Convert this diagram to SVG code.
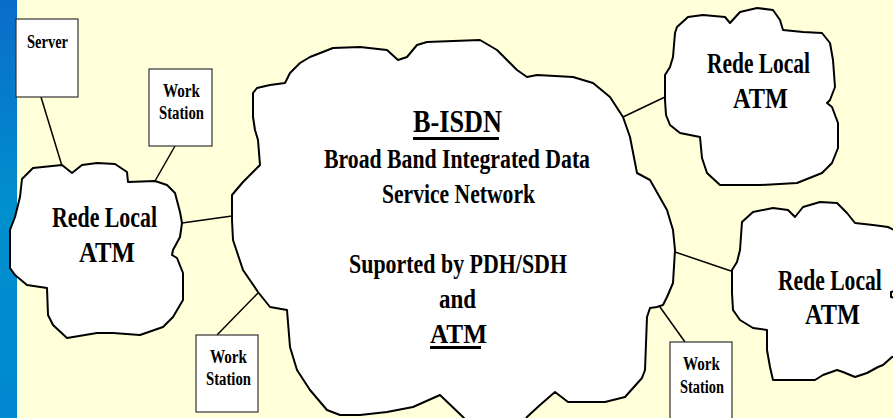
<svg xmlns="http://www.w3.org/2000/svg" width="893" height="418" viewBox="0 0 893 418">
<defs>
<linearGradient id="strip" x1="0" y1="0" x2="0" y2="1">
<stop offset="0" stop-color="#0A6CCA"/>
<stop offset="0.5" stop-color="#0090CE"/>
<stop offset="1" stop-color="#0088D0"/>
</linearGradient>
<style>
.cloud{fill:#FFFFFF;stroke:#000;stroke-width:2;stroke-linejoin:round}
.box{fill:#FFFFFF;stroke:#333;stroke-width:1.2}
.conn{stroke:#000;stroke-width:1.5;fill:none}
text{font-family:"Liberation Serif","Times New Roman",serif;font-weight:bold;fill:#000}
.sm{font-size:18px}
.lg{font-size:29px}
.md{font-size:27px}
.xl{font-size:32px}
.ul{stroke:#000;stroke-width:3}
</style>
</defs>
<rect x="0" y="0" width="893" height="418" fill="#FFFFDA"/>
<rect x="0" y="0" width="17" height="418" fill="url(#strip)"/>

<g id="connectors">
<line class="conn" x1="41" y1="97" x2="62" y2="166"/>
<line class="conn" x1="175" y1="146" x2="155" y2="181"/>
<line class="conn" x1="182" y1="223" x2="232" y2="216"/>
<line class="conn" x1="258" y1="293" x2="217" y2="335"/>
<line class="conn" x1="623" y1="117" x2="665" y2="97"/>
<line class="conn" x1="675" y1="252" x2="731" y2="271"/>
<line class="conn" x1="660" y1="307" x2="685" y2="342"/>
</g>

<g id="server">
<rect class="box" x="16" y="19" width="62" height="78"/>
<text class="sm" x="27" y="48" textLength="41" lengthAdjust="spacingAndGlyphs">Server</text>
</g>

<g id="ws-top">
<rect class="box" x="149" y="69" width="63" height="77"/>
<text class="sm" x="163" y="97" textLength="37" lengthAdjust="spacingAndGlyphs">Work</text>
<text class="sm" x="159" y="119" textLength="45" lengthAdjust="spacingAndGlyphs">Station</text>
</g>

<g id="ws-bottom-left">
<rect class="box" x="196" y="335" width="62" height="77"/>
<text class="sm" x="210" y="363" textLength="37" lengthAdjust="spacingAndGlyphs">Work</text>
<text class="sm" x="206" y="385" textLength="45" lengthAdjust="spacingAndGlyphs">Station</text>
</g>

<g id="ws-bottom-right">
<rect class="box" x="670" y="342" width="62" height="77"/>
<text class="sm" x="683" y="370" textLength="37" lengthAdjust="spacingAndGlyphs">Work</text>
<text class="sm" x="680" y="393" textLength="44" lengthAdjust="spacingAndGlyphs">Station</text>
</g>

<g id="lan-left">
<polygon class="cloud" points="22,179 33,168 62,165 72,173 82,165 97,163 115,164 127,172 128,182 155,181 167,185 175,193 180,212 182,223 180,237 173,250 172,255 177,258 183,273 183,300 173,317 163,327 140,335 113,333 97,333 67,338 53,325 48,315 47,288 27,285 15,275 10,268 10,230 15,217 20,197"/>
<text class="lg" x="52" y="227" textLength="105" lengthAdjust="spacingAndGlyphs">Rede Local</text>
<text class="lg" x="79" y="262" textLength="56" lengthAdjust="spacingAndGlyphs">ATM</text>
</g>

<g id="bisdn">
<polygon class="cloud" points="232,216 232,195 243,182 255,170 260,165 258,140 255,130 253,117 253,93 257,88 270,85 285,83 290,73 300,63 310,57 333,48 360,47 387,50 398,60 407,57 417,45 427,42 480,40 497,50 517,70 527,77 537,75 573,77 593,83 610,97 623,117 630,137 637,173 650,180 667,210 673,230 675,250 673,283 667,297 663,305 657,307 650,308 647,317 645,370 642,378 625,397 605,402 568,402 555,392 540,405 527,417 522,425 470,425 463,417 440,395 413,407 387,412 360,415 340,415 327,410 310,390 297,370 290,347 287,310 270,307 258,292 243,270 233,240 232,220"/>
<text class="xl" x="413" y="132" textLength="89" lengthAdjust="spacingAndGlyphs">B-ISDN</text>
<line class="ul" x1="413" y1="138.5" x2="499" y2="138.5"/>
<text class="md" x="324" y="168" textLength="266" lengthAdjust="spacingAndGlyphs">Broad Band Integrated Data</text>
<text class="md" x="382" y="203" textLength="153" lengthAdjust="spacingAndGlyphs">Service Network</text>
<text class="md" x="349" y="273" textLength="218" lengthAdjust="spacingAndGlyphs">Suported by PDH/SDH</text>
<text class="md" x="439" y="308" textLength="37" lengthAdjust="spacingAndGlyphs">and</text>
<text class="md" x="430" y="343" textLength="57" lengthAdjust="spacingAndGlyphs">ATM</text>
<line class="ul" x1="430" y1="347.5" x2="481" y2="347.5"/>
</g>

<g id="lan-top-right">
<polygon class="cloud" points="677,27 688,17 703,15 725,17 730,23 740,12 757,8 773,10 780,20 783,30 803,32 822,33 830,43 833,60 835,87 830,100 827,103 832,107 838,123 838,148 832,163 822,173 797,183 760,185 720,185 707,173 702,158 700,137 680,133 670,125 666,115 665,100 665,75 670,67 673,57 675,33"/>
<text class="lg" x="707" y="73" textLength="103" lengthAdjust="spacingAndGlyphs">Rede Local</text>
<text class="lg" x="733" y="108" textLength="55" lengthAdjust="spacingAndGlyphs">ATM</text>
</g>

<g id="lan-bottom-right">
<polygon class="cloud" points="742,222 753,212 773,208 788,210 795,217 803,207 820,202 837,203 847,213 855,223 873,225 888,227 900,233 900,290 891,292 891,297 900,299 900,357 892,357 883,365 878,367 867,373 855,377 843,372 837,370 823,375 815,380 797,380 773,380 770,367 767,350 767,330 753,328 740,320 733,310 732,293 732,270 737,262 740,250"/>
<text class="lg" transform="translate(778,290) scale(0.745,1)">Rede Local</text>
<text class="lg" x="805" y="324" textLength="55" lengthAdjust="spacingAndGlyphs">ATM</text>
</g>
</svg>
